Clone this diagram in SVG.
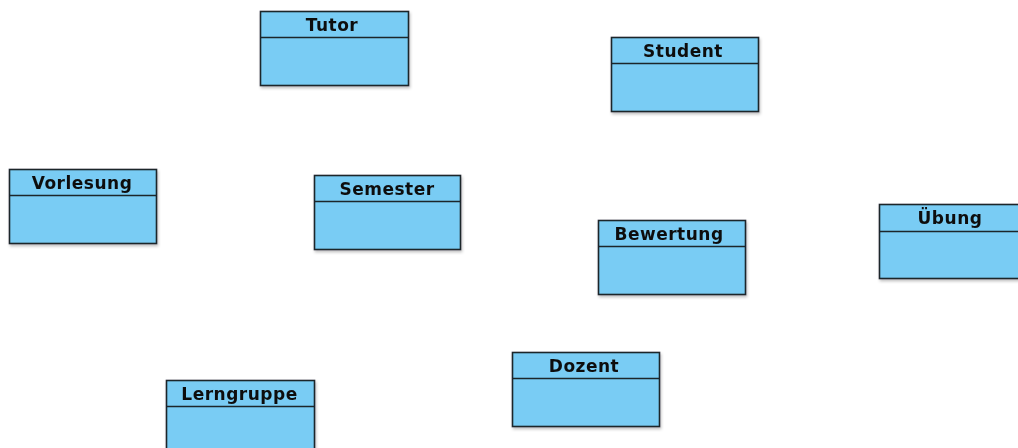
<svg xmlns="http://www.w3.org/2000/svg" width="1018" height="448" viewBox="0 0 1018 448">
  <defs>
    <filter id="shadow" x="-10%" y="-10%" width="130%" height="140%">
      <feGaussianBlur in="SourceAlpha" stdDeviation="1.5"/>
      <feOffset dx="1" dy="2" result="b"/>
      <feComponentTransfer><feFuncA type="linear" slope="0.25"/></feComponentTransfer>
      <feMerge><feMergeNode/><feMergeNode in="SourceGraphic"/></feMerge>
    </filter>
  </defs>
  <style>
    .box { fill: #79CCF4; stroke: #1a252b; stroke-width: 1.6; }
    .div { stroke: #1a252b; stroke-width: 1.6; }
    .title { font-family: "DejaVu Sans", "Liberation Sans", sans-serif; font-weight: bold; font-size: 17px; fill: #111; text-anchor: middle; letter-spacing: 0.5px; }
  </style>
  <rect width="1018" height="448" fill="#ffffff"/>

  <g id="connectors"></g>

  <g id="tutor" filter="url(#shadow)">
    <rect class="box" x="260.5" y="11.5" width="148" height="74"/>
    <line class="div" x1="260.5" y1="37.5" x2="408.5" y2="37.5"/>
    <text class="title" x="332" y="31">Tutor</text>
  </g>

  <g id="student" filter="url(#shadow)">
    <rect class="box" x="611.5" y="37.5" width="147" height="74"/>
    <line class="div" x1="611.5" y1="63.5" x2="758.5" y2="63.5"/>
    <text class="title" x="683" y="57">Student</text>
  </g>

  <g id="vorlesung" filter="url(#shadow)">
    <rect class="box" x="9.5" y="169.5" width="147" height="74"/>
    <line class="div" x1="9.5" y1="195.5" x2="156.5" y2="195.5"/>
    <text class="title" x="82" y="189">Vorlesung</text>
  </g>

  <g id="semester" filter="url(#shadow)">
    <rect class="box" x="314.5" y="175.5" width="146" height="74"/>
    <line class="div" x1="314.5" y1="201.5" x2="460.5" y2="201.5"/>
    <text class="title" x="387" y="195">Semester</text>
  </g>

  <g id="bewertung" filter="url(#shadow)">
    <rect class="box" x="598.5" y="220.5" width="147" height="74"/>
    <line class="div" x1="598.5" y1="246.5" x2="745.5" y2="246.5"/>
    <text class="title" x="669" y="240">Bewertung</text>
  </g>

  <g id="uebung" filter="url(#shadow)">
    <rect class="box" x="879.5" y="204.5" width="147" height="74"/>
    <line class="div" x1="879.5" y1="231.5" x2="1026.5" y2="231.5"/>
    <text class="title" x="950" y="224">Übung</text>
  </g>

  <g id="dozent" filter="url(#shadow)">
    <rect class="box" x="512.5" y="352.5" width="147" height="74"/>
    <line class="div" x1="512.5" y1="378.5" x2="659.5" y2="378.5"/>
    <text class="title" x="584" y="372">Dozent</text>
  </g>

  <g id="lerngruppe" filter="url(#shadow)">
    <rect class="box" x="166.5" y="380.5" width="148" height="74"/>
    <line class="div" x1="166.5" y1="406.5" x2="314.5" y2="406.5"/>
    <text class="title" x="239.5" y="400">Lerngruppe</text>
  </g>
</svg>
